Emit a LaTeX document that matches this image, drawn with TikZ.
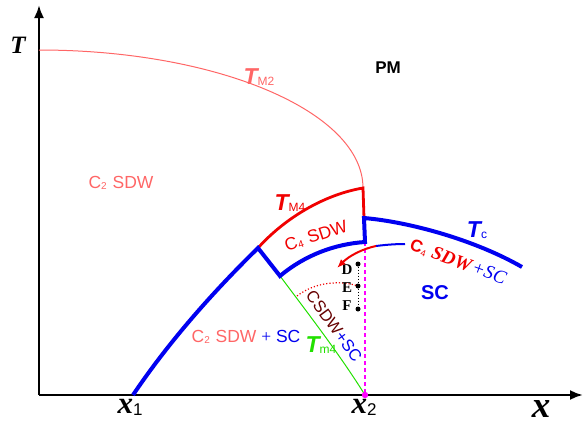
\documentclass[tikz,border=0pt]{standalone}
\usepackage{fontspec}
\setmainfont{Liberation Sans}
\newfontfamily\tms{Liberation Serif}
\usetikzlibrary{arrows.meta}

\definecolor{pmred}{HTML}{FF6666}
\definecolor{sdwred}{HTML}{F00000}
\definecolor{scblue}{HTML}{0000F0}
\definecolor{tmgreen}{HTML}{22E000}
\definecolor{csdwbrown}{HTML}{660000}
\definecolor{pinkline}{HTML}{FF00FF}

\newcommand{\fs}[1]{\fontsize{#1}{#1}\selectfont}
\newcommand{\sub}[2][10]{\raisebox{-1.5pt}{\fs{#1}\mdseries\upshape #2}}
\newcommand{\xlab}[1]{{\tms\bfseries\itshape\fs{31}x}\raisebox{-2pt}{\fs{17}#1}}
\newcommand{\tlab}[2]{{\bfseries\itshape\fs{23}T}\sub[12]{#2}}

\tikzset{
  axis/.style={line width=2.4pt,-{Latex[length=13pt,width=10pt]}},
  tcline/.style={scblue,line width=4pt},
  tmline/.style={sdwred,line width=2.8pt},
  phase/.style={font=\fs{17.5}},
  dotpt/.style={fill=black,circle,inner sep=0pt,minimum size=5pt}
}

\begin{document}
\begin{tikzpicture}[x=1pt,y=-1pt]
  \useasboundingbox (0,0) rectangle (584,426);
  \coordinate (O) at (39,395);
  \coordinate (x1) at (133,395);
  \coordinate (x2) at (365,395);
  \coordinate (kneeL) at (258,248);
  \coordinate (kneeI) at (280,276);
  \coordinate (capR) at (363,188);
  \coordinate (stepT) at (364,218);
  \coordinate (stepB) at (365,242);
  % axes
  \draw[axis] (O) -- (39,5);
  \draw[axis] (O) -- (583,395);
  \node (Tax) at (18,45) {\tms\bfseries\itshape\fs{25}T};
  \node (xax) at (541,409) {\tms\bfseries\itshape\fs{37}x};
  \node (x1l) at (130,407) {\xlab{1}};
  \node (x2l) at (364,407) {\xlab{2}};
  % T_M2
  \draw[pmred,line width=1pt] (39,50) .. controls (218,50) and (363,112) .. (capR);
  \node[pmred] (tm2) at (259,77) {\tlab{}{M2}};
  % T_M4
  \draw[tmline] (kneeL) .. controls (283,220) and (322,195) .. (capR) -- (stepT);
  \node[sdwred] (tm4) at (290,203) {\tlab{}{M4}};
  % T_m4 and the dotted lines
  \draw[tmgreen,line width=1pt] (kneeI) .. controls (310,316) and (340,355) .. (x2);
  \draw[pinkline,line width=2.2pt,dash pattern=on 4pt off 3pt] (stepB) -- (x2);
  \fill[pinkline] (x2) circle (3.2pt);
  \draw[sdwred,line width=1.2pt,dotted] (297,296) .. controls (315,282) and (340,280) .. (358,286);
  % T_c
  \draw[tcline] (x1) .. controls (170,340) and (215,290) .. (kneeL) -- (kneeI)
    .. controls (305,255) and (335,244) .. (stepB) -- (stepT)
    .. controls (410,222) and (475,240) .. (522,267);
  \node[scblue] (tc) at (477,230) {\tlab{}{c}};
  % D, E, F
  \node[dotpt] (D) at (358,264) {};
  \node[dotpt] (E) at (358,286) {};
  \node[dotpt] (F) at (358,309) {};
  \draw[line width=1pt,dotted] (D) -- (E) -- (F);
  \foreach \p/\y in {D/270,E/288,F/306}
    \node[font=\tms\bfseries\fs{15}] (\p l) at (347,\y) {\p};
  % arrow into the C4 SDW + SC region
  \coordinate (arrS) at (405,244);
  \coordinate (arrM) at (376,246);
  \coordinate (arrE) at (337,268);
  \draw[scblue,line width=2pt] (arrS) .. controls (394,244) and (384,245) .. (arrM);
  \draw[sdwred,line width=2pt,-{Latex[length=9pt,width=7pt]}] (arrM) .. controls (362,249) and (349,256) .. (arrE);
  % phases
  \node[font=\bfseries\fs{17}] (pm) at (388,68) {PM};
  \node[phase,pmred] (c2sdw) at (121,183) {C\sub{2}\,\,SDW};
  \node[phase,sdwred,rotate=18] (c4sdw) at (316,236) {C\sub{4}\,\,SDW};
  \node[scblue,font=\bfseries\fs{20}] (sc) at (435,293) {SC};
  \node[phase] (c2sc) at (246,337) {\textcolor{pmred}{C\sub{2}\,\,SDW} \textcolor{scblue}{{\tms+} SC}};
  \node[rotate=-20] (c4sc) at (458,262)
    {\textcolor{sdwred}{\fs{17}\bfseries C\sub[9]{4}\,\,{\tms\itshape\fs{19}SDW}}\,\textcolor{scblue}{\tms\itshape\fs{19}+SC}};
  \node[rotate=-54,font=\fs{16.5}] (csdw) at (334,326) {\textcolor{csdwbrown}{CSDW}\textcolor{scblue}{+SC}};
  \node[tmgreen] (tm4g) at (321,345) {\tlab{}{m4}};
\end{tikzpicture}
\end{document}
